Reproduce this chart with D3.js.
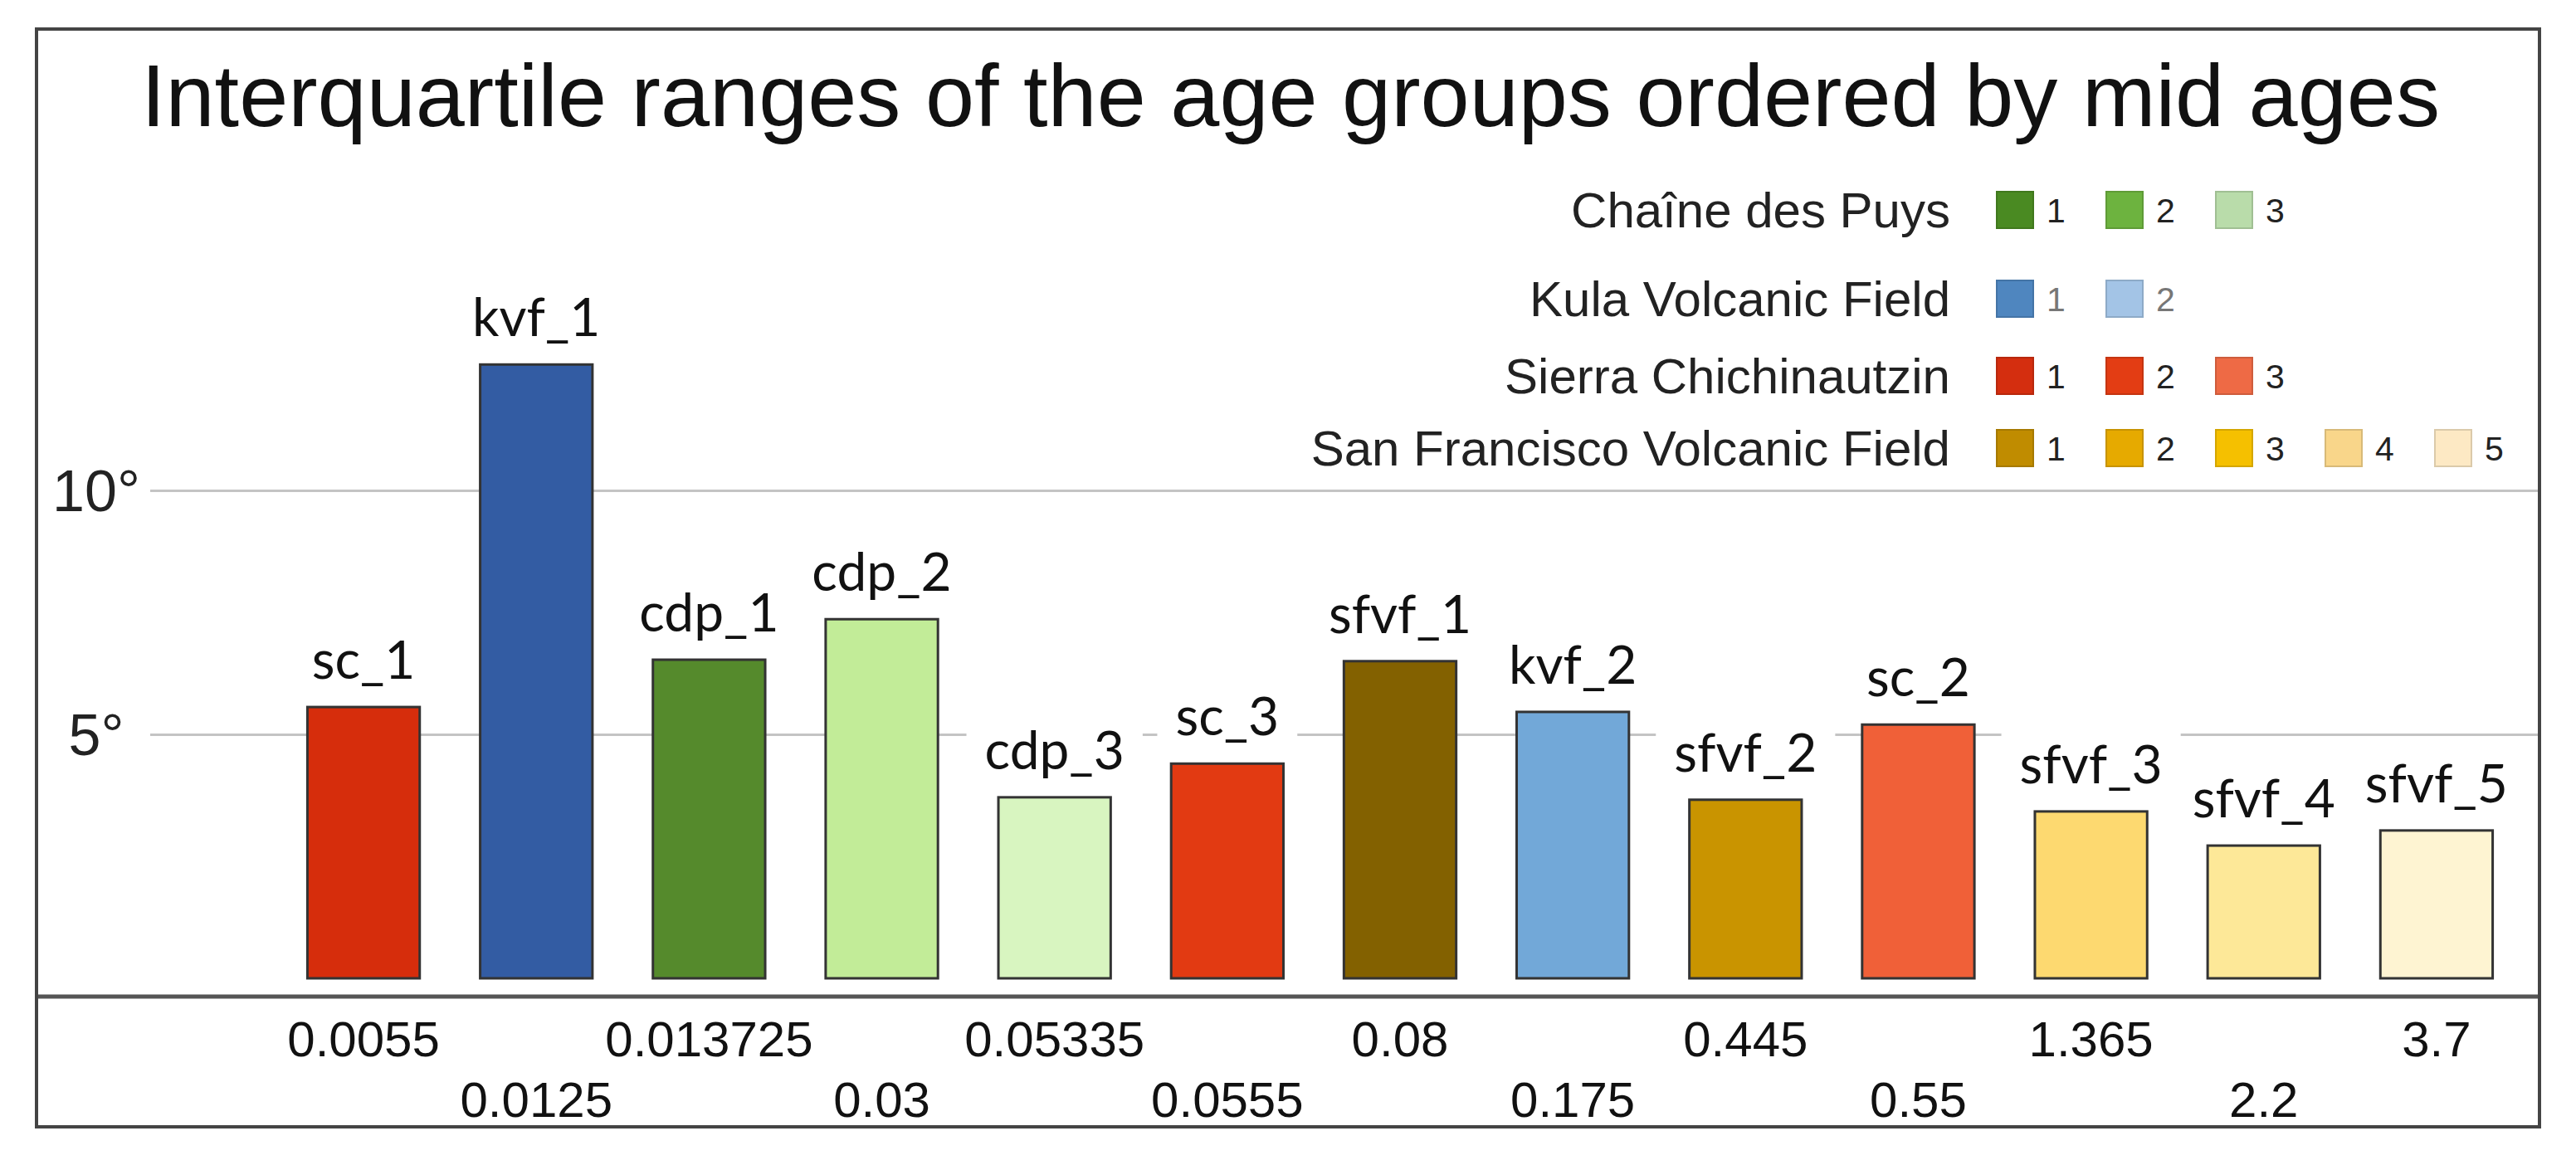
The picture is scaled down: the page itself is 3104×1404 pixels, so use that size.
<!DOCTYPE html>
<html>
<head>
<meta charset="utf-8">
<title>IQR of age groups</title>
<script src="https://cdn.jsdelivr.net/npm/d3@7"></script>
<style>
  html, body { margin: 0; padding: 0; background: #fff; }
  svg { display: block; }
  .sans { font-family: "Liberation Sans", Arial, sans-serif; }
  .lbl { font-family: Lato, "Open Sans", sans-serif; }
</style>
</head>
<body>
<svg id="chart" width="3104" height="1404"></svg>
<script>
// age groups in order of mid age
var groups = ["sc_1", "kvf_1", "cdp_1", "cdp_2", "cdp_3", "sc_3", "sfvf_1", "kvf_2", "sfvf_2", "sc_2", "sfvf_3", "sfvf_4", "sfvf_5"];
// interquartile range, degrees
var iqr = [5.56, 12.58, 6.53, 7.36, 3.71, 4.40, 6.50, 5.46, 3.66, 5.20, 3.42, 2.72, 3.03];
// mid ages shown under the bars
var midAges = ["0.0055", "0.0125", "0.013725", "0.03", "0.05335", "0.0555", "0.08", "0.175", "0.445", "0.55", "1.365", "2.2", "3.7"];
var barColors = ["#d62d0c", "#335ca3", "#558a2c", "#c2ec98", "#d8f5c0", "#e23a12", "#836100", "#72a8d8", "#c99400", "#f06038", "#fdd970", "#fde898", "#fef4d2"];
var yTicks = [5, 10];

var legendFields = ["Chaîne des Puys", "Kula Volcanic Field", "Sierra Chichinautzin", "San Francisco Volcanic Field"];
var legendColors = [
  ["#4a8a22", "#6db33f", "#b9dcaa"],
  ["#4f86bf", "#a3c4e6"],
  ["#d42e0f", "#e33d14", "#ee6a45"],
  ["#c08c00", "#e6aa00", "#f5c000", "#f9d68a", "#fde9c4"]
];
var legendRowY = [253, 360, 453, 540];

var svg = d3.select("#chart");

var frame = {left: 44, top: 35, right: 3060, bottom: 1358};

var x = d3.scaleBand().domain(groups).range([334, 3040]).paddingInner(0.35).paddingOuter(0.175);
var y = d3.scaleLinear().domain([0, 10]).range([1179, 591]);

svg.append("rect")
  .attr("x", 0).attr("y", 0).attr("width", 3104).attr("height", 1404)
  .attr("fill", "#fff");

// title
svg.append("text")
  .attr("class", "sans")
  .attr("x", 1555).attr("y", 152)
  .attr("text-anchor", "middle")
  .attr("font-size", 106)
  .attr("textLength", 2770)
  .attr("lengthAdjust", "spacingAndGlyphs")
  .attr("fill", "#111")
  .text("Interquartile ranges of the age groups ordered by mid ages");

// gridlines + y labels
var yAxis = d3.axisLeft(y)
  .tickValues(yTicks)
  .tickSize(-(frame.right - 181))
  .tickFormat(function (d) { return d + "°"; });

var gy = svg.append("g").attr("transform", "translate(181,0)").call(yAxis);
gy.select(".domain").remove();
gy.selectAll(".tick line").attr("stroke", "#c4c4c4").attr("stroke-width", 3);
gy.selectAll(".tick text")
  .attr("class", "sans")
  .attr("x", -65)
  .attr("dy", "0.35em")
  .attr("text-anchor", "middle")
  .attr("font-size", 70)
  .attr("fill", "#222");

// label backgrounds hide the gridlines under the labels
var labels = svg.append("g");
groups.forEach(function (g, i) {
  var cx = x(g) + x.bandwidth() / 2;
  var base = y(iqr[i]) - 34;
  var t = labels.append("text")
    .attr("class", "lbl")
    .attr("x", cx).attr("y", base)
    .attr("text-anchor", "middle")
    .attr("font-size", 64)
    .attr("fill", "#111")
    .text(g);
  var w = t.node().getComputedTextLength();
  labels.insert("rect", "text")
    .attr("x", cx - w / 2 - 22).attr("y", base - 68)
    .attr("width", w + 44).attr("height", 92)
    .attr("fill", "#fff");
});

// bars
svg.append("g").selectAll("rect")
  .data(groups)
  .join("rect")
  .attr("x", function (d) { return x(d); })
  .attr("y", function (d, i) { return y(iqr[i]); })
  .attr("width", x.bandwidth())
  .attr("height", function (d, i) { return y(0) - y(iqr[i]); })
  .attr("fill", function (d, i) { return barColors[i]; })
  .attr("stroke", "#333")
  .attr("stroke-width", 3);

// x axis with mid ages on two staggered rows
var xAxis = d3.axisBottom(x)
  .tickSize(0)
  .tickFormat(function (d, i) { return midAges[i]; });
var gx = svg.append("g").attr("transform", "translate(0,1201)").call(xAxis);
gx.select(".domain").remove();
gx.selectAll(".tick text")
  .attr("class", "sans")
  .attr("font-size", 60)
  .attr("fill", "#111")
  .attr("dy", null)
  .attr("y", function (d, i) { return i % 2 === 0 ? 72 : 145; });

svg.append("line")
  .attr("x1", frame.left).attr("x2", frame.right)
  .attr("y1", 1201).attr("y2", 1201)
  .attr("stroke", "#555").attr("stroke-width", 5);

// legend
var lg = svg.append("g");
legendFields.forEach(function (name, r) {
  var cy = legendRowY[r];
  lg.append("text")
    .attr("class", "sans")
    .attr("x", 2350).attr("y", cy + 21)
    .attr("text-anchor", "end")
    .attr("font-size", 60)
    .attr("fill", "#222")
    .text(name);
  legendColors[r].forEach(function (c, k) {
    var sx = 2406 + k * 132;
    lg.append("rect")
      .attr("x", sx).attr("y", cy - 22)
      .attr("width", 44).attr("height", 44)
      .attr("fill", c)
      .attr("stroke", d3.color(c).darker(0.4))
      .attr("stroke-width", 2);
    lg.append("text")
      .attr("class", "sans")
      .attr("x", sx + 60).attr("y", cy + 15)
      .attr("font-size", 41)
      .attr("fill", r === 1 ? "#777" : "#222")
      .text(k + 1);
  });
});

// frame
svg.append("rect")
  .attr("x", frame.left).attr("y", frame.top)
  .attr("width", frame.right - frame.left).attr("height", frame.bottom - frame.top)
  .attr("fill", "none")
  .attr("stroke", "#444").attr("stroke-width", 4);
</script>
</body>
</html>
